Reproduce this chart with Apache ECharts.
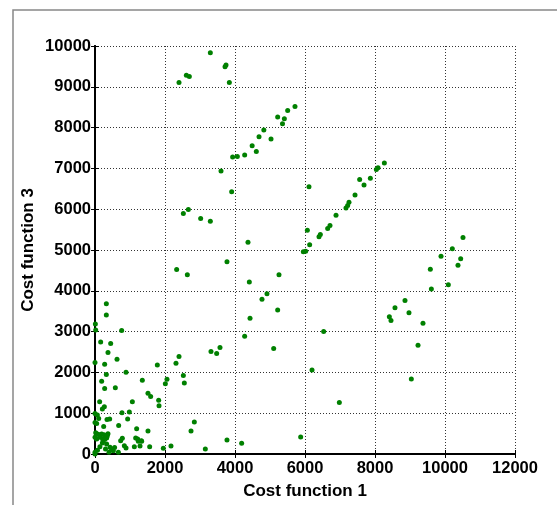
<!DOCTYPE html>
<html>
<head>
<meta charset="utf-8">
<script src="https://cdn.jsdelivr.net/npm/echarts@6/dist/echarts.min.js"></script>
<style>
html, body { margin: 0; padding: 0; background: #fff; }
#main { width: 557px; height: 505px; }
</style>
</head>
<body>
<div id="main"></div>
<script>
// points, [cost function 1, cost function 3]
var topLeft = [[2400, 9103], [2610, 9284], [2695, 9250], [3295, 9836], [3715, 9494], [3743, 9535], [3838, 9103]];
var upperLine = [[3933, 7279], [4067, 7294], [4276, 7330], [4490, 7555], [4609, 7416], [4686, 7775], [4824, 7939],
    [5029, 7719], [5219, 8257], [5357, 8097], [5410, 8215], [5505, 8418], [5714, 8516]];
var middleLine = [[5952, 4956], [6019, 4971], [6067, 5484], [6133, 5127], [6400, 5323], [6438, 5379], [6648, 5526],
    [6714, 5599], [6886, 5851], [7171, 6032], [7219, 6088], [7257, 6169], [7429, 6350], [7562, 6731],
    [7686, 6594], [7867, 6756], [8038, 6976], [8086, 7017], [8267, 7132]];
var rightGroup = [[10514, 5306], [10209, 5029], [10448, 4785], [10371, 4629], [9886, 4849], [9581, 4531], [9610, 4042],
    [10095, 4149], [8857, 3765], [8571, 3587], [8971, 3464], [8410, 3367], [8457, 3269], [9371, 3203],
    [9229, 2665], [9038, 1841]];
var middleScatter = [[3600, 6936], [3905, 6430], [2524, 5892], [2667, 5990], [3019, 5770], [3295, 5704], [6114, 6553],
    [4371, 5191], [3771, 4711], [4409, 4213], [4429, 3325], [4771, 3790], [4914, 3929], [5219, 3528],
    [5257, 4393], [4276, 2885], [5105, 2584], [2333, 4523], [2638, 4393], [3314, 2511], [3476, 2462],
    [3571, 2608], [6533, 3000], [6200, 2061], [6981, 1264], [5876, 416]];
var lowerLeft = [[2314, 2225], [2400, 2389], [2524, 1924], [2552, 1743], [1781, 2183], [2010, 1719], [2057, 1834],
    [1352, 1809], [1514, 1491], [1590, 1410], [1819, 1320], [1829, 1182], [1067, 1279], [981, 1027],
    [933, 856], [771, 1010], [2838, 782], [2743, 562], [1514, 562], [1190, 620], [1162, 391], [1219, 367],
    [1324, 326], [1124, 179], [1286, 196], [1562, 179], [1952, 139], [2171, 196], [3152, 122], [3771, 342],
    [4190, 261]];
var leftEdge = [[762, 3024], [324, 3684], [324, 3406], [10, 3186], [20, 3039], [162, 2746], [448, 2707], [371, 2486],
    [629, 2323], [0, 2242], [276, 2200], [324, 1948], [886, 2005], [190, 1785], [276, 1606], [581, 1621],
    [133, 1279], [267, 1157], [210, 1100]];
var corner = [[0, 995], [67, 954], [105, 873], [0, 775], [48, 750], [248, 677], [343, 848], [419, 856], [676, 701],
    [371, 497], [20, 521], [67, 489], [124, 472], [190, 489], [257, 472], [0, 408], [48, 367], [219, 367],
    [333, 391], [781, 383], [733, 326], [1238, 310], [1333, 310], [838, 204], [886, 147], [0, 0], [70, 90],
    [140, 180], [210, 270], [280, 360], [350, 440], [143, 408], [237, 326], [333, 245], [429, 164], [524, 81],
    [476, 122], [667, 41], [0, 41], [400, 40], [300, 120], [560, 160]];

var allPoints = [].concat(topLeft, upperLine, middleLine, rightGroup, middleScatter, lowerLeft, leftEdge, corner);

var myChart = echarts.init(document.getElementById('main'));
var labelFont = {
    color: '#000', fontFamily: 'Liberation Sans, Arial, sans-serif', fontWeight: 'bold', fontSize: 16.5,
    formatter: function (v) { return String(v); }
};
var nameFont = { color: '#000', fontFamily: 'Liberation Sans, Arial, sans-serif', fontWeight: 'bold', fontSize: 17 };
var gridLine = { show: true, lineStyle: { color: '#333', type: [1, 2], width: 1 } };

var option = {
    backgroundColor: '#fff',
    animation: false,
    graphic: [{
        type: 'rect',
        shape: { x: 13, y: 10, width: 600, height: 600 },
        style: { fill: 'none', stroke: '#888', lineWidth: 1.5 },
        z: -1
    }],
    grid: { left: 95, top: 46, right: 42, bottom: 50 },
    xAxis: [{
        type: 'value', min: 0, max: 12000, interval: 2000, position: 'bottom',
        name: 'Cost function 1', nameLocation: 'middle', nameGap: 29, nameMoveOverlap: false,
        nameTextStyle: nameFont,
        axisLine: { lineStyle: { color: '#000', width: 2 } },
        axisTick: { inside: true, length: 4, lineStyle: { color: '#000' } },
        axisLabel: Object.assign({ margin: 6 }, labelFont),
        splitLine: gridLine
    }, {
        type: 'value', min: 0, max: 12000, interval: 2000, position: 'top',
        axisLine: { show: true, lineStyle: { color: '#000', width: 2 } },
        axisTick: { inside: true, length: 4, lineStyle: { color: '#000' } },
        axisLabel: { show: false },
        splitLine: { show: false }
    }],
    yAxis: [{
        type: 'value', min: 0, max: 10000, interval: 1000, position: 'left',
        name: 'Cost function 3', nameLocation: 'middle', nameGap: 58, nameMoveOverlap: false,
        nameTextStyle: nameFont,
        axisLine: { show: true, lineStyle: { color: '#000', width: 2 } },
        axisTick: { show: true, inside: true, length: 4, lineStyle: { color: '#000' } },
        axisLabel: Object.assign({ margin: 4 }, labelFont),
        splitLine: gridLine
    }, {
        type: 'value', min: 0, max: 10000, interval: 1000, position: 'right',
        axisLine: { show: true, lineStyle: { color: '#000', width: 2 } },
        axisTick: { show: true, inside: true, length: 4, lineStyle: { color: '#000' } },
        axisLabel: { show: false },
        splitLine: { show: false }
    }],
    series: [{
        type: 'scatter',
        data: allPoints,
        symbolSize: 5,
        itemStyle: { color: '#008000', opacity: 1 }
    }]
};
myChart.setOption(option);
</script>
</body>
</html>
